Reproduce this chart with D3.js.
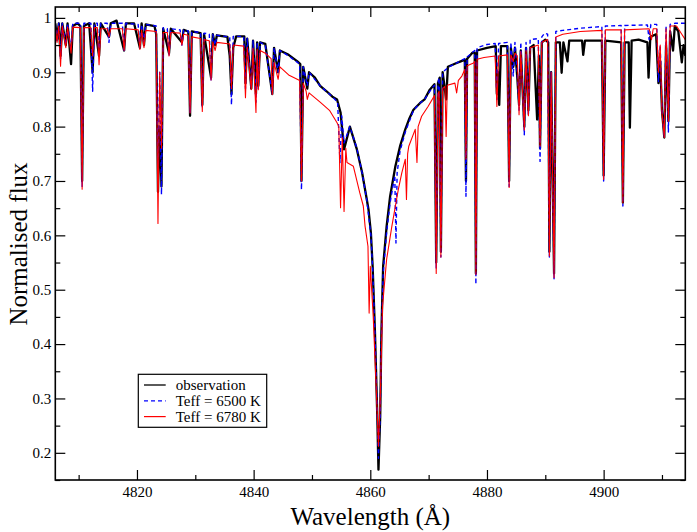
<!DOCTYPE html>
<html>
<head>
<meta charset="utf-8">
<script src="https://cdn.jsdelivr.net/npm/d3@7"></script>
<style>
body { margin: 0; background: #fff; }
text { font-family: "Liberation Serif", "DejaVu Serif", serif; fill: #000; }
</style>
</head>
<body>
<div id="chart"></div>
<script>
// [wavelength (A), normalised flux]
var observation = [
  [4806.0,0.990],[4806.3,0.960],[4806.6,0.990],[4806.9,0.930],[4807.2,0.990],[4807.8,0.950],[4808.1,0.990],
  [4808.7,0.915],[4809.0,0.985],[4809.8,0.990],[4810.3,0.985],[4810.6,0.700],[4810.9,0.985],[4811.8,0.990],
  [4812.4,0.900],[4812.7,0.990],[4813.5,0.930],[4813.8,0.990],[4815.2,0.965],[4815.5,0.990],[4816.5,0.995],
  [4817.8,0.940],[4818.1,0.990],[4819.5,0.990],[4820.5,0.945],[4820.8,0.990],[4821.2,0.950],[4821.5,0.988],
  [4823.0,0.985],[4823.3,0.970],[4823.6,0.680],[4823.9,0.800],[4824.2,0.690],[4824.5,0.980],[4825.5,0.935],
  [4825.8,0.980],[4827.7,0.955],[4828.0,0.978],[4828.8,0.975],[4829.1,0.820],[4829.4,0.975],[4830.9,0.972],
  [4831.2,0.840],[4831.5,0.970],[4832.7,0.890],[4833.0,0.970],[4833.4,0.950],[4833.7,0.968],[4835.5,0.965],
  [4835.9,0.930],[4836.2,0.860],[4836.5,0.945],[4837.0,0.966],[4838.4,0.966],[4838.6,0.880],[4838.9,0.962],
  [4839.6,0.870],[4839.9,0.958],[4840.4,0.860],[4840.6,0.955],[4840.8,0.875],[4841.1,0.955],[4842.0,0.952],
  [4843.2,0.860],[4843.5,0.945],[4844.2,0.900],[4844.5,0.940],[4846.0,0.932],[4847.5,0.920],[4848.0,0.915],
  [4848.2,0.700],[4848.5,0.910],[4849.2,0.870],[4849.5,0.900],[4850.5,0.890],[4851.4,0.875],[4852.5,0.865],
  [4853.5,0.855],[4854.3,0.850],[4854.9,0.826],[4855.5,0.758],[4856.5,0.800],[4857.7,0.758],[4858.6,0.715],
  [4859.4,0.666],[4859.7,0.647],[4860.1,0.605],[4860.4,0.543],[4860.8,0.421],[4861.2,0.267],[4861.4,0.169],
  [4861.7,0.267],[4861.9,0.421],[4862.2,0.543],[4862.8,0.617],[4863.4,0.672],[4864.3,0.727],[4865.1,0.764],
  [4866.0,0.795],[4866.7,0.815],[4867.4,0.831],[4868.5,0.843],[4869.3,0.850],[4870.2,0.868],[4871.0,0.878],
  [4871.3,0.550],[4871.6,0.880],[4871.9,0.890],[4872.1,0.570],[4872.4,0.900],[4873.0,0.850],[4873.3,0.910],
  [4874.8,0.917],[4875.5,0.920],[4876.2,0.923],[4876.4,0.700],[4876.6,0.925],[4877.5,0.936],[4877.9,0.936],
  [4878.1,0.530],[4878.3,0.940],[4880.0,0.945],[4881.5,0.948],[4881.7,0.860],[4881.9,0.900],[4882.1,0.840],
  [4882.4,0.948],[4883.5,0.948],[4883.8,0.700],[4884.1,0.945],[4884.5,0.910],[4884.8,0.945],[4885.2,0.890],
  [4885.5,0.840],[4885.8,0.940],[4886.4,0.800],[4886.7,0.945],[4887.1,0.830],[4887.4,0.945],[4888.0,0.950],
  [4888.6,0.813],[4888.9,0.930],[4889.1,0.760],[4889.4,0.955],[4890.0,0.960],[4890.5,0.955],[4890.7,0.570],
  [4891.0,0.900],[4891.5,0.530],[4891.8,0.955],[4892.5,0.955],[4892.8,0.899],[4893.1,0.955],[4893.8,0.920],
  [4894.1,0.958],[4896.3,0.958],[4896.5,0.932],[4896.8,0.958],[4899.7,0.958],[4900.0,0.710],[4900.3,0.958],
  [4903.0,0.955],[4903.3,0.660],[4903.6,0.955],[4904.3,0.955],[4904.5,0.798],[4904.8,0.958],[4906.0,0.960],
  [4907.5,0.955],[4907.7,0.890],[4908.0,0.965],[4909.0,0.970],[4909.4,0.880],[4909.7,0.920],[4910.0,0.830],
  [4910.4,0.780],[4910.7,0.950],[4911.1,0.810],[4911.4,0.975],[4911.9,0.940],[4912.2,0.985],[4912.8,0.975],
  [4913.4,0.918],[4913.7,0.950],[4914.0,0.930]
];

var teff6500 = [
  [4806.0,0.990],[4806.3,0.955],[4806.6,0.990],[4806.9,0.925],[4807.2,0.990],[4807.8,0.950],[4808.1,0.990],
  [4808.7,0.940],[4809.0,0.990],[4810.3,0.990],[4810.6,0.690],[4810.9,0.990],[4812.1,0.990],[4812.4,0.865],
  [4812.7,0.990],[4813.2,0.990],[4813.5,0.930],[4813.8,0.990],[4814.9,0.990],[4815.2,0.955],[4815.5,0.990],
  [4817.5,0.990],[4817.8,0.940],[4818.1,0.990],[4820.2,0.988],[4820.5,0.945],[4820.8,0.988],[4821.2,0.955],
  [4821.5,0.988],[4823.3,0.985],[4823.6,0.700],[4823.9,0.900],[4824.2,0.675],[4824.5,0.982],[4825.2,0.980],
  [4825.5,0.930],[4825.8,0.980],[4827.4,0.978],[4827.7,0.950],[4828.0,0.978],[4828.8,0.976],[4829.1,0.825],
  [4829.4,0.975],[4830.9,0.973],[4831.2,0.835],[4831.5,0.972],[4832.4,0.970],[4832.7,0.886],[4833.0,0.970],
  [4833.4,0.950],[4833.7,0.968],[4835.9,0.965],[4836.2,0.840],[4836.5,0.966],[4838.3,0.966],[4838.6,0.870],
  [4838.9,0.962],[4839.6,0.870],[4839.9,0.958],[4840.4,0.845],[4840.6,0.955],[4840.8,0.870],[4841.1,0.955],
  [4842.0,0.950],[4843.2,0.860],[4843.5,0.945],[4844.2,0.900],[4844.5,0.940],[4846.0,0.930],[4847.9,0.915],
  [4848.2,0.684],[4848.5,0.910],[4849.2,0.875],[4849.5,0.900],[4851.4,0.875],[4853.5,0.855],[4854.4,0.845],
  [4854.8,0.734],[4855.1,0.820],[4855.5,0.770],[4856.5,0.800],[4857.7,0.760],[4858.6,0.715],[4859.4,0.665],
  [4860.1,0.600],[4860.4,0.540],[4860.8,0.420],[4861.2,0.270],[4861.4,0.190],[4861.7,0.270],[4861.9,0.410],
  [4862.2,0.530],[4862.8,0.605],[4863.4,0.660],[4864.2,0.710],[4864.4,0.586],[4864.6,0.715],[4865.1,0.755],
  [4866.0,0.790],[4867.4,0.830],[4868.5,0.843],[4869.3,0.850],[4870.2,0.865],[4871.0,0.876],[4871.3,0.540],
  [4871.6,0.880],[4871.8,0.890],[4872.1,0.560],[4872.4,0.900],[4873.5,0.910],[4874.8,0.917],[4876.2,0.925],
  [4876.4,0.672],[4876.6,0.928],[4877.9,0.940],[4878.1,0.510],[4878.3,0.945],[4880.0,0.951],[4881.4,0.953],
  [4881.7,0.850],[4882.0,0.953],[4883.5,0.955],[4883.8,0.690],[4884.1,0.955],[4884.5,0.893],[4884.8,0.955],
  [4885.2,0.900],[4885.5,0.830],[4885.8,0.955],[4886.4,0.785],[4886.7,0.955],[4887.1,0.820],[4887.4,0.960],
  [4888.8,0.962],[4889.1,0.736],[4889.4,0.965],[4889.9,0.972],[4890.4,0.970],[4890.7,0.560],[4891.0,0.900],
  [4891.5,0.520],[4891.8,0.975],[4893.0,0.977],[4896.0,0.981],[4899.7,0.984],[4900.0,0.700],[4900.3,0.985],
  [4903.0,0.986],[4903.3,0.654],[4903.6,0.986],[4907.5,0.987],[4907.8,0.960],[4908.1,0.988],[4909.1,0.988],
  [4909.4,0.883],[4909.7,0.950],[4910.0,0.830],[4910.4,0.780],[4910.7,0.985],[4911.1,0.790],[4911.4,0.988],
  [4912.2,0.990],[4913.4,0.990],[4914.0,0.990]
];

var teff6780 = [
  [4806.0,0.985],[4806.3,0.955],[4806.6,0.985],[4806.9,0.911],[4807.2,0.985],[4807.8,0.945],[4808.1,0.983],
  [4808.7,0.935],[4809.0,0.983],[4810.3,0.982],[4810.6,0.685],[4810.9,0.982],[4812.1,0.982],[4812.4,0.930],
  [4812.7,0.982],[4813.2,0.982],[4813.5,0.914],[4813.8,0.980],[4814.9,0.980],[4815.2,0.965],[4815.5,0.980],
  [4817.5,0.980],[4817.8,0.940],[4818.1,0.980],[4820.2,0.978],[4820.5,0.942],[4820.8,0.978],[4821.2,0.945],
  [4821.5,0.977],[4823.3,0.975],[4823.6,0.622],[4823.9,0.900],[4824.2,0.760],[4824.5,0.973],[4825.2,0.973],
  [4825.5,0.930],[4825.8,0.973],[4827.4,0.972],[4827.7,0.950],[4828.0,0.970],[4828.8,0.968],[4829.1,0.825],
  [4829.4,0.965],[4830.9,0.962],[4831.2,0.828],[4831.5,0.960],[4832.4,0.958],[4832.7,0.886],[4833.0,0.956],
  [4833.4,0.940],[4833.7,0.955],[4835.9,0.952],[4836.2,0.870],[4836.5,0.950],[4838.3,0.948],[4838.6,0.853],
  [4838.9,0.946],[4839.6,0.868],[4839.9,0.944],[4840.4,0.826],[4840.6,0.942],[4840.8,0.868],[4841.1,0.940],
  [4842.0,0.935],[4843.0,0.925],[4843.2,0.859],[4843.5,0.918],[4844.2,0.887],[4844.5,0.910],[4846.0,0.895],
  [4847.9,0.885],[4848.2,0.700],[4848.5,0.880],[4849.0,0.865],[4849.2,0.850],[4849.5,0.862],[4851.4,0.845],
  [4853.0,0.830],[4854.3,0.807],[4854.6,0.800],[4854.9,0.651],[4855.2,0.780],[4855.5,0.644],[4855.8,0.760],
  [4856.0,0.734],[4857.1,0.727],[4858.2,0.678],[4858.8,0.654],[4859.1,0.617],[4859.6,0.580],[4859.8,0.457],
  [4860.0,0.543],[4860.5,0.451],[4861.1,0.297],[4861.4,0.212],[4861.7,0.297],[4862.1,0.470],[4862.8,0.556],
  [4863.7,0.617],[4864.5,0.666],[4864.8,0.684],[4865.4,0.715],[4866.0,0.740],[4866.2,0.666],[4866.4,0.750],
  [4866.6,0.764],[4867.7,0.795],[4868.0,0.734],[4868.2,0.800],[4868.8,0.819],[4869.9,0.837],[4871.0,0.857],
  [4871.3,0.530],[4871.6,0.860],[4871.8,0.865],[4872.1,0.560],[4872.4,0.870],[4872.8,0.874],[4873.0,0.782],
  [4873.2,0.876],[4874.5,0.880],[4874.8,0.862],[4875.1,0.885],[4875.7,0.893],[4876.2,0.905],[4876.4,0.740],
  [4876.6,0.912],[4877.7,0.917],[4877.9,0.920],[4878.1,0.528],[4878.3,0.924],[4879.5,0.927],[4881.4,0.930],
  [4881.7,0.837],[4882.0,0.930],[4883.5,0.932],[4883.8,0.688],[4884.1,0.932],[4884.5,0.920],[4884.8,0.935],
  [4885.2,0.930],[4885.5,0.822],[4885.8,0.938],[4886.4,0.794],[4886.7,0.940],[4887.1,0.820],[4887.4,0.945],
  [4888.8,0.950],[4889.1,0.764],[4889.4,0.955],[4890.4,0.960],[4890.7,0.562],[4891.0,0.900],[4891.5,0.522],
  [4891.8,0.965],[4893.0,0.970],[4896.0,0.975],[4899.7,0.977],[4900.0,0.703],[4900.3,0.978],[4903.0,0.978],
  [4903.3,0.660],[4903.6,0.978],[4907.8,0.980],[4908.2,0.960],[4908.5,0.980],[4909.1,0.980],[4909.4,0.900],
  [4909.7,0.950],[4910.0,0.826],[4910.4,0.780],[4910.7,0.980],[4911.1,0.810],[4911.4,0.985],[4912.5,0.985],
  [4913.4,0.970],[4914.0,0.960]
];

var seriesNames = ["observation", "Teff = 6500 K", "Teff = 6780 K"];
var xMajor = [4820, 4840, 4860, 4880, 4900];
var xMinor = [4810, 4830, 4850, 4870, 4890, 4910];
var yMajor = [0.2, 0.3, 0.4, 0.5, 0.6, 0.7, 0.8, 0.9, 1];
var yMinor = [0.15, 0.25, 0.35, 0.45, 0.55, 0.65, 0.75, 0.85, 0.95];

var width = 697;
var height = 532;
var plotL = 55.3, plotR = 685.3, plotT = 7, plotB = 480;

var svg = d3.select("#chart")
    .append("svg")
    .attr("width", width)
    .attr("height", height);

var x = d3.scaleLinear().domain([4806, 4914]).range([plotL, plotR]);
var y = d3.scaleLinear().domain([0.15, 1.02]).range([plotB, plotT]);

svg.append("clipPath").attr("id", "clip")
  .append("rect")
    .attr("x", plotL).attr("y", plotT)
    .attr("width", plotR - plotL).attr("height", plotB - plotT);

var line = d3.line()
    .x(function(d){ return x(d[0]); })
    .y(function(d){ return y(d[1]); });

var styles = [
  { data: observation, color: "#000000", w: 2.3, dash: null },
  { data: teff6500, color: "#0000ff", w: 1.4, dash: "4,3" },
  { data: teff6780, color: "#ff0000", w: 1.1, dash: null }
];

var plot = svg.append("g").attr("clip-path", "url(#clip)");
plot.selectAll("path")
    .data(styles)
    .enter()
    .append("path")
    .attr("fill", "none")
    .attr("stroke", function(d){ return d.color; })
    .attr("stroke-width", function(d){ return d.w; })
    .attr("stroke-dasharray", function(d){ return d.dash; })
    .attr("stroke-linejoin", "round")
    .attr("d", function(d){ return line(d.data); });

// axes: ticks point inward on all four sides, one group per tick set
function fmtY(d){ return d === 1 ? "1" : d3.format(".1f")(d); }

function addAxis(axis, tx, ty){
  return svg.append("g")
    .attr("transform", "translate(" + tx + "," + ty + ")")
    .call(axis);
}

var xLabels = addAxis(d3.axisBottom(x).tickValues(xMajor).tickSize(-10).tickFormat(d3.format("d")), 0, plotB);
addAxis(d3.axisBottom(x).tickValues(xMinor).tickSize(-5).tickFormat(""), 0, plotB);
addAxis(d3.axisTop(x).tickValues(xMajor).tickSize(-10).tickFormat(""), 0, plotT);
addAxis(d3.axisTop(x).tickValues(xMinor).tickSize(-5).tickFormat(""), 0, plotT);
var yLabels = addAxis(d3.axisLeft(y).tickValues(yMajor).tickSize(-10).tickFormat(fmtY), plotL, 0);
addAxis(d3.axisLeft(y).tickValues(yMinor).tickSize(-5).tickFormat(""), plotL, 0);
addAxis(d3.axisRight(y).tickValues(yMajor).tickSize(-10).tickFormat(""), plotR, 0);
addAxis(d3.axisRight(y).tickValues(yMinor).tickSize(-5).tickFormat(""), plotR, 0);

svg.selectAll(".domain").remove();
svg.selectAll(".tick line").attr("stroke", "#000").attr("stroke-width", 1.2);
svg.selectAll(".tick text")
    .style("font-family", "'Liberation Serif', serif")
    .style("font-size", "15px")
    .attr("fill", "#000");
xLabels.selectAll(".tick text").attr("y", 6).attr("dy", "0.71em");
yLabels.selectAll(".tick text").attr("x", -4);

svg.append("rect")
    .attr("x", plotL).attr("y", plotT)
    .attr("width", plotR - plotL).attr("height", plotB - plotT)
    .attr("fill", "none")
    .attr("stroke", "#000")
    .attr("stroke-width", 1.6);

svg.append("text")
    .attr("x", (plotL + plotR) / 2)
    .attr("y", 525)
    .attr("text-anchor", "middle")
    .style("font-size", "25px")
    .text("Wavelength (Å)");

svg.append("text")
    .attr("transform", "translate(27,244) rotate(-90)")
    .attr("text-anchor", "middle")
    .style("font-size", "25px")
    .text("Normalised flux");

// legend
var legend = svg.append("g");
legend.append("rect")
    .attr("x", 138.3).attr("y", 374.3)
    .attr("width", 128.4).attr("height", 53)
    .attr("fill", "#fff")
    .attr("stroke", "#000")
    .attr("stroke-width", 1.2);

var rows = legend.selectAll("g.row")
    .data(styles)
    .enter()
    .append("g")
    .attr("class", "row")
    .attr("transform", function(d, i){ return "translate(0," + (385 + i * 15.8) + ")"; });

rows.append("line")
    .attr("x1", 144).attr("x2", 165.7)
    .attr("stroke", function(d){ return d.color; })
    .attr("stroke-width", function(d, i){ return i === 0 ? 1.3 : 1.2; })
    .attr("stroke-dasharray", function(d){ return d.dash; });

rows.append("text")
    .attr("x", 175.7)
    .attr("dy", "0.35em")
    .style("font-size", "15px")
    .text(function(d, i){ return seriesNames[i]; });
</script>
</body>
</html>
